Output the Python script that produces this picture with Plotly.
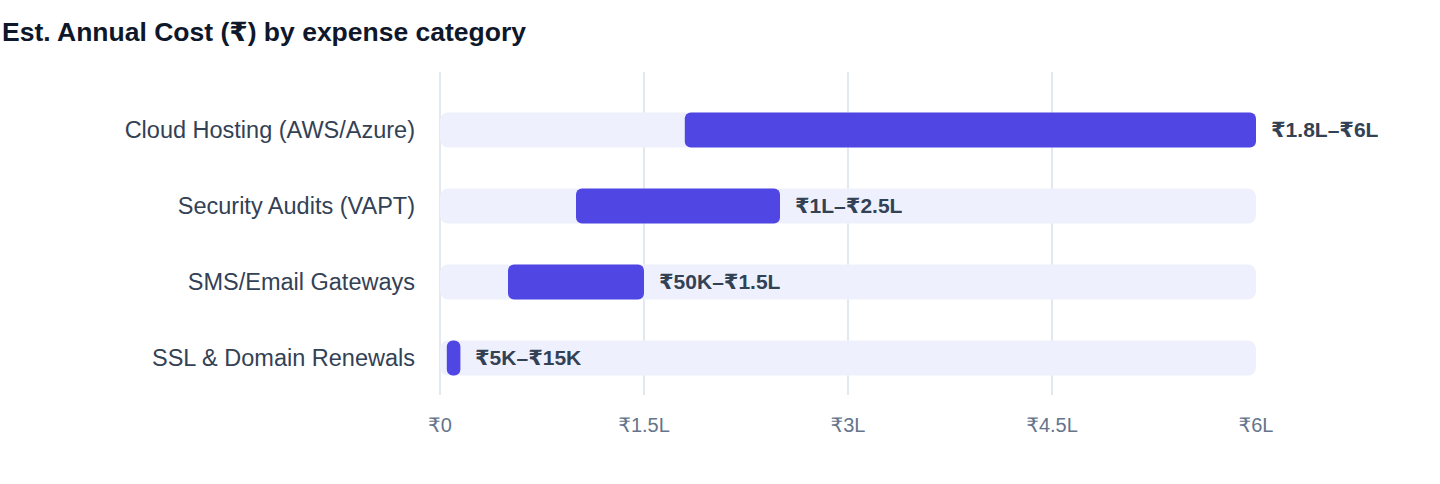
import plotly.graph_objects as go

# Est. annual cost ranges (in rupees) per expense category
categories = ["SSL & Domain Renewals", "SMS/Email Gateways", "Security Audits (VAPT)", "Cloud Hosting (AWS/Azure)"]
low = [5000, 50000, 100000, 180000]
high = [15000, 150000, 250000, 600000]
range_labels = ["₹5K–₹15K", "₹50K–₹1.5L", "₹1L–₹2.5L", "₹1.8L–₹6L"]
axis_max = 600000
tick_vals = [0, 150000, 300000, 450000, 600000]
tick_text = ["₹0", "₹1.5L", "₹3L", "₹4.5L", "₹6L"]

FONT = "Liberation Sans, Arial, DejaVu Sans, sans-serif"

fig = go.Figure()

# light track behind each bar, full scale
fig.add_trace(go.Bar(
    y=categories, x=[axis_max] * len(categories), base=[0] * len(categories),
    orientation="h", width=0.46,
    marker=dict(color="#EEF1FD", cornerradius=8, line=dict(width=0)),
    hoverinfo="skip", showlegend=False,
))

# the actual low-high range
fig.add_trace(go.Bar(
    y=categories, x=[h - l for l, h in zip(low, high)], base=low,
    orientation="h", width=0.46,
    marker=dict(color="#5046E4", cornerradius=6, line=dict(width=0)),
    showlegend=False,
))

for cat, h, lab in zip(categories, high, range_labels):
    fig.add_annotation(
        x=h, y=cat, text="<b>" + lab + "</b>", showarrow=False,
        xanchor="left", xshift=13,
        font=dict(family=FONT, size=21, color="#334155"),
    )

fig.update_layout(
    width=1440, height=484,
    barmode="overlay",
    plot_bgcolor="white", paper_bgcolor="white",
    margin=dict(l=440, r=184, t=72, b=89),
    title=dict(
        text="<b>Est. Annual Cost (₹) by expense category</b>",
        x=0.0014, xref="container", xanchor="left",
        y=1 - 32 / 484, yref="container", yanchor="middle",
        font=dict(family=FONT, size=26.5, color="#0F172A"),
    ),
)

fig.update_xaxes(
    range=[0, axis_max], tickvals=tick_vals, ticktext=tick_text,
    showgrid=True, gridcolor="#E2E8F0", gridwidth=1.5,
    zeroline=True, zerolinecolor="#E2E8F0", zerolinewidth=1.5,
    showline=False, ticklabelstandoff=16,
    tickfont=dict(family=FONT, size=20, color="#64748B"),
)
fig.update_yaxes(
    categoryorder="array", categoryarray=categories,
    range=[-0.487, 3.763],
    showgrid=False, zeroline=False, showline=False,
    ticklabelstandoff=24,
    tickfont=dict(family=FONT, size=23.5, color="#334155"),
)

fig.write_html("out.html", config={"displayModeBar": False},
               post_script="document.body.style.margin='0';")
